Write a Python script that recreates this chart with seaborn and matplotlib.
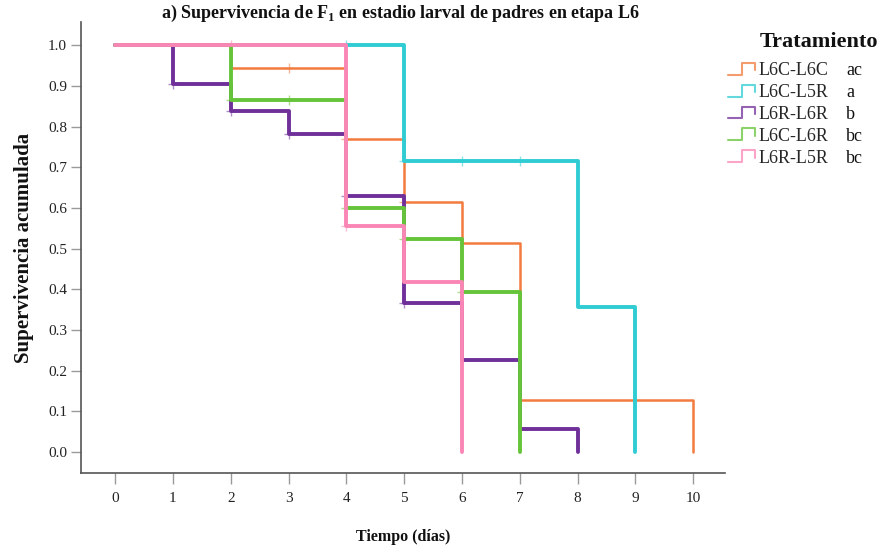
import numpy as np
import pandas as pd
import matplotlib
matplotlib.use("Agg")
import matplotlib.pyplot as plt
import seaborn as sns
from matplotlib.legend_handler import HandlerBase
from matplotlib.lines import Line2D

# Kaplan-Meier step curves (time in days, cumulative survival)
treatments = ["L6C-L6C", "L6C-L5R", "L6R-L6R", "L6C-L6R", "L6R-L5R"]
groups = ["ac", "a", "b", "bc", "bc"]

t_l6c_l6c = [0, 2, 4, 5, 6, 7, 10]
s_l6c_l6c = [1.0, 0.944, 0.769, 0.615, 0.513, 0.128, 0.0]

t_l6c_l5r = [0, 5, 8, 9]
s_l6c_l5r = [1.0, 0.714, 0.357, 0.0]

t_l6r_l6r = [0, 1, 2, 3, 4, 5, 6, 7, 8]
s_l6r_l6r = [1.0, 0.905, 0.838, 0.781, 0.628, 0.366, 0.226, 0.057, 0.0]

t_l6c_l6r = [0, 2, 4, 5, 6, 7]
s_l6c_l6r = [1.0, 0.864, 0.600, 0.524, 0.393, 0.0]

t_l6r_l5r = [0, 4, 5, 6]
s_l6r_l5r = [1.0, 0.556, 0.417, 0.0]

# censored observations (days)
c_l6c_l6c = [3, 4, 5]
c_l6c_l5r = [4, 5, 6, 7]
c_l6r_l6r = [1, 2, 3, 4, 5]
c_l6c_l6r = [2, 3, 4, 5, 6]
c_l6r_l5r = [2, 4]

times = [t_l6c_l6c, t_l6c_l5r, t_l6r_l6r, t_l6c_l6r, t_l6r_l5r]
survs = [s_l6c_l6c, s_l6c_l5r, s_l6r_l6r, s_l6c_l6r, s_l6r_l5r]
censors = [c_l6c_l6c, c_l6c_l5r, c_l6r_l6r, c_l6c_l6r, c_l6r_l5r]

colors = ["#F27B3F", "#2FCDD3", "#70309A", "#66C43A", "#FA86B6"]
widths = [1.8, 2.8, 2.8, 2.8, 2.8]

x_ticks = list(range(0, 11))
y_ticks = [round(0.1 * i, 1) for i in range(11)]

sns.set_theme(style="white")
plt.rcParams["font.family"] = ["Liberation Serif", "DejaVu Serif"]
plt.rcParams["mathtext.fontset"] = "custom"
plt.rcParams["mathtext.rm"] = "Liberation Serif"
plt.rcParams["mathtext.bf"] = "Liberation Serif:bold"

fig = plt.figure(figsize=(8.83, 5.5), dpi=100)
ax = fig.add_axes([81 / 883, 77 / 550, (725 - 81) / 883, (473 - 22) / 550])

rows = []
for name, ts, ss in zip(treatments, times, survs):
    for t, s in zip(ts, ss):
        rows.append({"Tiempo": t, "Supervivencia": s, "Tratamiento": name})
df = pd.DataFrame(rows)

for name, col, lw, ts, ss, cs in zip(treatments, colors, widths, times, survs, censors):
    sub = df[df["Tratamiento"] == name]
    sns.lineplot(data=sub, x="Tiempo", y="Supervivencia", color=col, lw=lw,
                 drawstyle="steps-post", ax=ax, legend=False, estimator=None)
    # censor marks sit on the step level at that time
    ys = [ss[np.searchsorted(ts, c, side="right") - 1] for c in cs]
    cdf = pd.DataFrame({"Tiempo": cs, "Supervivencia": ys})
    sns.scatterplot(data=cdf, x="Tiempo", y="Supervivencia", marker="+", s=45,
                    color=col, alpha=0.55, linewidth=1.0, ax=ax, legend=False)

ax.set_xlim(-0.59, 10.55)
ax.set_ylim(-0.052, 1.057)
ax.set_xticks(x_ticks)
ax.set_yticks(y_ticks)
ax.set_xticklabels([str(v) for v in x_ticks], fontsize=11)
ax.set_yticklabels([f"{v:.1f}" for v in y_ticks], fontsize=11)
ax.tick_params(axis="x", which="major", bottom=True, length=8, width=1.0,
               color="#9a9a9a", pad=6, labelcolor="#222222")
ax.tick_params(axis="y", which="major", left=True, length=7, width=1.0,
               color="#9a9a9a", pad=3, labelcolor="#222222")

for side in ["top", "right"]:
    ax.spines[side].set_visible(False)
for side in ["left", "bottom"]:
    ax.spines[side].set_color("#555555")
    ax.spines[side].set_linewidth(1.2)

ax.set_xlabel("Tiempo (días)", fontsize=11.5, fontweight="bold", labelpad=17,
              color="#111111")
ax.set_ylabel("Supervivencia acumulada", fontsize=15, fontweight="bold",
              labelpad=10, color="#111111")
fig.text(400 / 883, 1 - 13 / 550,
         r"a) Supervivencia de $\mathbf{F}_{\mathbf{1}}$ en estadio larval de padres en etapa L6",
         ha="center", va="center", fontsize=13, fontweight="bold", color="#111111")


class StepHandler(HandlerBase):
    def create_artists(self, legend, orig_handle, xdescent, ydescent, width,
                       height, fontsize, trans):
        x0, y0 = -xdescent, -ydescent
        xs = [x0, x0 + 0.5 * width, x0 + 0.5 * width, x0 + width, x0 + width]
        ys = [y0 + 0.05 * height, y0 + 0.05 * height, y0 + 0.95 * height,
              y0 + 0.95 * height, y0 + 0.4 * height]
        ln = Line2D(xs, ys, color=orig_handle.get_color(), lw=1.5, alpha=0.75,
                    transform=trans)
        return [ln]


handles = [Line2D([], [], color=c) for c in colors]
leg = fig.legend(handles, treatments, loc="upper left",
                 bbox_to_anchor=(728 / 883, 1 - 62 / 550), frameon=False,
                 fontsize=13, handlelength=1.5, handleheight=0.75, handletextpad=0.2,
                 labelspacing=0.27, borderaxespad=0, borderpad=0,
                 handler_map={Line2D: StepHandler()})
fig.text(760 / 883, 1 - 42 / 550, "Tratamiento", ha="left", va="center",
         fontsize=16, fontweight="bold", color="#111111")

fig.canvas.draw()
renderer = fig.canvas.get_renderer()
for txt, g in zip(leg.get_texts(), groups):
    bb = txt.get_window_extent(renderer)
    yc = (bb.y0 + bb.y1) / 2 / fig.bbox.height
    fig.text(846 / 883, yc, g, ha="left", va="center", fontsize=13, color="#111111")

fig.savefig("out.png", dpi=100)
